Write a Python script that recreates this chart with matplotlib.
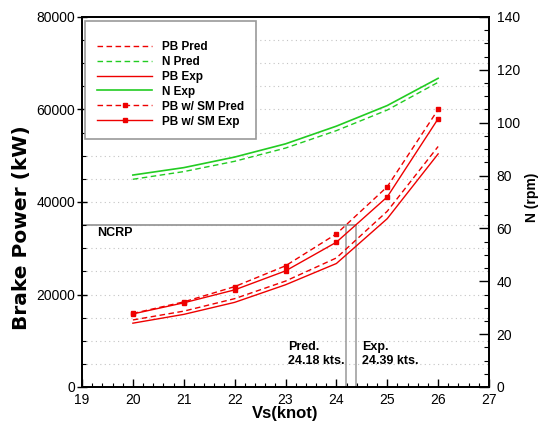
import matplotlib
matplotlib.use("Agg")
from matplotlib import pyplot as plt
from matplotlib.ticker import MultipleLocator

# Dados
vs = [20, 21, 22, 23, 24, 25, 26]
n_exp = [80.2, 83.0, 87.0, 92.0, 98.7, 106.5, 116.8]
n_pred = [78.6, 81.5, 85.4, 90.4, 97.0, 104.8, 115.3]
pb_pred = [14500, 16400, 19100, 22900, 27900, 38000, 52000]
pb_exp = [13800, 15700, 18300, 22100, 26700, 36400, 50400]
pb_sm_pred = [15900, 18400, 21700, 26200, 33100, 43300, 60000]
pb_sm_exp = [15800, 18200, 21000, 25100, 31300, 41100, 58000]

ncrp = 35000
v_pred = 24.18
v_exp = 24.39

labels = ["PB Pred", "N Pred", "PB Exp", "N Exp", "PB w/ SM Pred", "PB w/ SM Exp"]

plt.rcParams["font.family"] = ["Liberation Sans", "DejaVu Sans"]

red = "#ee0000"
green = "#22cc22"
dash = (0, (4, 2.5))

fig = plt.figure(figsize=(5.44, 4.21), dpi=100)
ax = fig.add_axes([82 / 544, 34 / 421, 407 / 544, 370 / 421])
ax2 = ax.twinx()

# Eixos e grade
ax.set_xlim(19, 27)
ax.set_ylim(0, 80000)
ax2.set_ylim(0, 140)
ax.xaxis.set_major_locator(MultipleLocator(1))
ax.xaxis.set_minor_locator(MultipleLocator(0.2))
ax.yaxis.set_major_locator(MultipleLocator(20000))
ax.yaxis.set_minor_locator(MultipleLocator(5000))
ax2.yaxis.set_major_locator(MultipleLocator(20))
ax2.yaxis.set_minor_locator(MultipleLocator(5))

for y in range(5000, 80000, 5000):
    ax.axhline(y, color="#c4c4c4", lw=0.8, ls=(0, (1, 3)), zorder=0)

ax.tick_params(axis="x", which="major", direction="in", length=6, width=1, labelsize=10, pad=4.5, top=False)
ax.tick_params(axis="x", which="minor", direction="in", length=3, width=0.8, top=False)
ax.tick_params(axis="y", which="major", direction="inout", length=7, width=1, labelsize=10, pad=1.5, right=False)
ax.tick_params(axis="y", which="minor", direction="in", length=3, width=0.8, right=False)
ax2.tick_params(axis="y", which="major", direction="in", length=7, width=1, labelsize=10, pad=5.5)
ax2.tick_params(axis="y", which="minor", direction="in", length=3.5, width=0.8)

for a in (ax, ax2):
    for s in a.spines.values():
        s.set_linewidth(1.3)

# Linha NCRP e velocidades
ax.plot([19, v_exp], [ncrp, ncrp], color="#999999", lw=1.3, zorder=1)
ax.plot([v_pred, v_pred], [0, ncrp], color="#999999", lw=1.1, zorder=1)
ax.plot([v_exp, v_exp], [0, ncrp], color="#999999", lw=1.1, zorder=1)
ax.text(19.29, ncrp - 1800, "NCRP", fontsize=9, fontweight="bold", va="center", ha="left")
ax.text(v_pred - 0.02, 4300, "Pred.\n24.18 kts.", fontsize=9, fontweight="bold",
        ha="right", va="bottom", multialignment="left", linespacing=1.25)
ax.text(v_exp + 0.11, 4300, "Exp.\n24.39 kts.", fontsize=9, fontweight="bold",
        ha="left", va="bottom", multialignment="left", linespacing=1.25)

# Curvas
l1, = ax.plot(vs, pb_pred, color=red, lw=1.0, ls=dash, zorder=3)
l3, = ax.plot(vs, pb_exp, color=red, lw=1.0, zorder=3)
l5, = ax.plot(vs, pb_sm_pred, color=red, lw=1.0, ls=dash, marker="s", ms=3.2, zorder=3)
l6, = ax.plot(vs, pb_sm_exp, color=red, lw=1.0, marker="s", ms=3.2, zorder=3)
l2, = ax2.plot(vs, n_pred, color=green, lw=1.0, ls=dash)
l4, = ax2.plot(vs, n_exp, color=green, lw=1.2)

# Rótulos dos eixos
ax.set_xlabel("Vs(knot)", fontsize=12, fontweight="bold")
ax.xaxis.set_label_coords(0.5, -0.052)
ax.set_ylabel("Brake Power (kW)", fontsize=14.5, fontweight="bold", family=["DejaVu Sans"])
ax.yaxis.set_label_coords(-0.125, 0.43)
ax2.set_ylabel("N (rpm)", fontsize=10, fontweight="bold", rotation=90)
ax2.yaxis.set_label_coords(1.088, 0.514)

# Legenda
leg = ax2.legend([l1, l2, l3, l4, l5, l6], labels, loc="upper left",
                 bbox_to_anchor=(3 / 407, 1 - 4 / 370), fancybox=False, framealpha=1,
                 edgecolor="#999999", prop={"weight": "bold", "size": 8.5},
                 handlelength=4.7, handletextpad=0.85, labelspacing=0.25,
                 borderpad=1.0, borderaxespad=0, title=" ", title_fontsize=4)
leg.get_frame().set_linewidth(1.2)

plt.savefig("out.png", dpi=100)
